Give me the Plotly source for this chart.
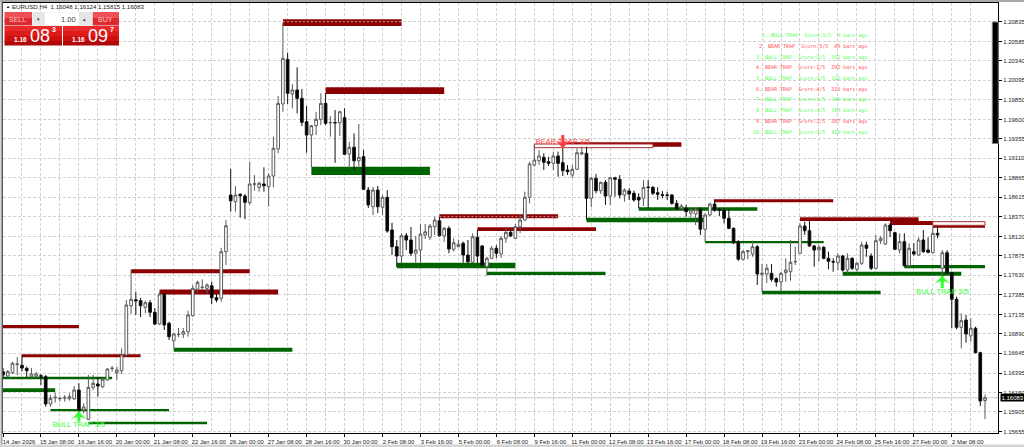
import plotly.graph_objects as go

WIDTH, HEIGHT = 1024, 447
LEFT, RIGHT, TOP, BOTTOM = 2.5, 26.3, 3, 14

# --- data ---------------------------------------------------------------
open_ = [
    1.16413, 1.16358, 1.16400, 1.16502, 1.16493, 1.16455, 1.16349, 1.16349, 1.16361, 1.16349,
    1.16004, 1.16084, 1.16071, 1.16080, 1.16071, 1.16071, 1.16181, 1.15929, 1.15811, 1.16215,
    1.16257, 1.16223, 1.16308, 1.16453, 1.16400, 1.16425, 1.16624, 1.17246, 1.17322, 1.17310,
    1.17226, 1.17284, 1.17163, 1.17015, 1.17394, 1.17024, 1.16804, 1.16881, 1.16885, 1.16918,
    1.17120, 1.17454, 1.17476, 1.17466, 1.17499, 1.17347, 1.17340, 1.17929, 1.18645, 1.18560,
    1.18654, 1.18632, 1.18548, 1.18781, 1.18742, 1.18784, 1.18750, 1.18885, 1.19226, 1.19795,
    1.20359, 1.19921, 1.19972, 1.19867, 1.19571, 1.19403, 1.19521, 1.19601, 1.19803, 1.19557,
    1.19561, 1.19558, 1.19622, 1.19163, 1.19248, 1.19078, 1.19129, 1.18708, 1.18497, 1.18708,
    1.18490, 1.18616, 1.18203, 1.17992, 1.17874, 1.18131, 1.18076, 1.17908, 1.17950, 1.18140,
    1.18111, 1.18244, 1.18320, 1.18127, 1.18224, 1.17959, 1.17992, 1.18035, 1.17887, 1.17795,
    1.18111, 1.18001, 1.17739, 1.17845, 1.17972, 1.17900, 1.18098, 1.18174, 1.18098, 1.18244,
    1.18329, 1.18616, 1.19024, 1.19078, 1.19121, 1.19066, 1.19045, 1.19138, 1.19053, 1.18961,
    1.18898, 1.18970, 1.19163, 1.19172, 1.18603, 1.18856, 1.18699, 1.18805, 1.18632, 1.18864,
    1.18843, 1.18645, 1.18696, 1.18667, 1.18616, 1.18603, 1.18745, 1.18742, 1.18674, 1.18648,
    1.18645, 1.18645, 1.18540, 1.18477, 1.18477, 1.18414, 1.18405, 1.18464, 1.18212, 1.18392,
    1.18531, 1.18457, 1.18455, 1.18351, 1.18224, 1.18055, 1.17833, 1.17929, 1.17900, 1.17992,
    1.17643, 1.17647, 1.17656, 1.17588, 1.17546, 1.17663, 1.17676, 1.17800, 1.17908, 1.18253,
    1.18194, 1.18001, 1.17950, 1.17984, 1.17845, 1.17803, 1.17790, 1.17874, 1.17697, 1.17845,
    1.17706, 1.17782, 1.18013, 1.17874, 1.17719, 1.18068, 1.18026, 1.18266, 1.18169, 1.17950,
    1.18055, 1.17752, 1.17929, 1.17887, 1.18076, 1.17950, 1.17916, 1.18161, 1.17719, 1.17916,
    1.17663, 1.17327, 1.16973, 1.17066, 1.16864, 1.16961, 1.16653, 1.16048,
]
high = [
    1.16459, 1.16434, 1.16539, 1.16598, 1.16624, 1.16476, 1.16459, 1.16413, 1.16383, 1.16371,
    1.16118, 1.16147, 1.16097, 1.16118, 1.16140, 1.16232, 1.16266, 1.16013, 1.16371, 1.16371,
    1.16342, 1.16346, 1.16455, 1.16485, 1.16476, 1.16708, 1.17318, 1.17697, 1.17423, 1.17344,
    1.17310, 1.17318, 1.17217, 1.17419, 1.17407, 1.17044, 1.16905, 1.16965, 1.16965, 1.17183,
    1.17508, 1.17562, 1.17580, 1.17529, 1.17550, 1.17394, 1.17979, 1.18329, 1.18973, 1.18759,
    1.18667, 1.18658, 1.19066, 1.18898, 1.18813, 1.18995, 1.18923, 1.19382, 1.19896, 1.20818,
    1.20443, 1.20047, 1.20258, 1.19984, 1.19769, 1.19529, 1.19697, 1.19930, 1.19934, 1.19643,
    1.19719, 1.19710, 1.19740, 1.19318, 1.19424, 1.19542, 1.19214, 1.18746, 1.18746, 1.18759,
    1.18645, 1.18708, 1.18295, 1.18076, 1.18161, 1.18165, 1.18241, 1.18127, 1.18279, 1.18279,
    1.18279, 1.18371, 1.18371, 1.18244, 1.18253, 1.18098, 1.18076, 1.18055, 1.18076, 1.18161,
    1.18203, 1.18013, 1.17865, 1.18001, 1.18013, 1.18127, 1.18244, 1.18203, 1.18279, 1.18392,
    1.18687, 1.19066, 1.19277, 1.19214, 1.19172, 1.19129, 1.19192, 1.19192, 1.19277, 1.19024,
    1.19024, 1.19235, 1.19255, 1.19255, 1.18876, 1.18910, 1.18813, 1.18834, 1.18876, 1.18876,
    1.18898, 1.18730, 1.18730, 1.18699, 1.18667, 1.18834, 1.18834, 1.18759, 1.18742, 1.18696,
    1.18687, 1.18658, 1.18582, 1.18531, 1.18519, 1.18477, 1.18490, 1.18490, 1.18414, 1.18548,
    1.18591, 1.18481, 1.18481, 1.18468, 1.18237, 1.18076, 1.17950, 1.17950, 1.18068, 1.18013,
    1.17773, 1.17773, 1.17773, 1.17605, 1.17676, 1.17845, 1.18076, 1.17992, 1.18287, 1.18308,
    1.18320, 1.18013, 1.18013, 1.18001, 1.17929, 1.17845, 1.17908, 1.17887, 1.17908, 1.17858,
    1.17802, 1.18055, 1.18055, 1.17908, 1.18140, 1.18127, 1.18287, 1.18291, 1.18181, 1.18161,
    1.18161, 1.18035, 1.18039, 1.18111, 1.18203, 1.18111, 1.18244, 1.18253, 1.17950, 1.17950,
    1.17676, 1.17360, 1.17150, 1.17129, 1.17087, 1.16981, 1.16665, 1.16124,
]
low = [
    1.16333, 1.16333, 1.16383, 1.16371, 1.16413, 1.16333, 1.16333, 1.16333, 1.16245, 1.15970,
    1.15970, 1.16021, 1.16034, 1.16034, 1.16046, 1.16055, 1.15887, 1.15887, 1.15802, 1.16181,
    1.16097, 1.16203, 1.16299, 1.16413, 1.16308, 1.16383, 1.16602, 1.17142, 1.17129, 1.17104,
    1.17154, 1.17104, 1.17002, 1.17002, 1.16939, 1.16813, 1.16712, 1.16851, 1.16838, 1.16855,
    1.17107, 1.17407, 1.17445, 1.17407, 1.17268, 1.17289, 1.17297, 1.17761, 1.18434, 1.18434,
    1.18358, 1.18342, 1.18519, 1.18699, 1.18687, 1.18687, 1.18497, 1.18742, 1.19172, 1.19697,
    1.19795, 1.19740, 1.19677, 1.19517, 1.19179, 1.18999, 1.19403, 1.19529, 1.19529, 1.19382,
    1.19053, 1.19390, 1.19150, 1.18986, 1.18961, 1.19003, 1.18708, 1.18481, 1.18392, 1.18418,
    1.18392, 1.18169, 1.17887, 1.17739, 1.17782, 1.17950, 1.17874, 1.17790, 1.17786, 1.18089,
    1.18076, 1.18140, 1.18118, 1.18055, 1.17908, 1.17929, 1.17984, 1.17790, 1.17782, 1.17782,
    1.17782, 1.17739, 1.17622, 1.17836, 1.17849, 1.17849, 1.18039, 1.18114, 1.18089, 1.18165,
    1.18320, 1.18540, 1.19003, 1.19024, 1.18961, 1.19011, 1.18961, 1.18876, 1.18885, 1.18898,
    1.18860, 1.18961, 1.19150, 1.18333, 1.18490, 1.18667, 1.18658, 1.18519, 1.18519, 1.18624,
    1.18603, 1.18560, 1.18582, 1.18560, 1.18477, 1.18506, 1.18477, 1.18645, 1.18582, 1.18603,
    1.18582, 1.18519, 1.18455, 1.18464, 1.18371, 1.18363, 1.18266, 1.18140, 1.18051, 1.18380,
    1.18434, 1.18380, 1.18287, 1.18212, 1.18026, 1.17815, 1.17815, 1.17833, 1.17865, 1.17508,
    1.17423, 1.17533, 1.17550, 1.17486, 1.17423, 1.17550, 1.17562, 1.17761, 1.17900, 1.18140,
    1.17992, 1.17739, 1.17802, 1.17833, 1.17706, 1.17676, 1.17697, 1.17676, 1.17656, 1.17697,
    1.17676, 1.17761, 1.17865, 1.17697, 1.17706, 1.18026, 1.18013, 1.18114, 1.17950, 1.17908,
    1.17739, 1.17719, 1.17878, 1.17874, 1.17916, 1.17908, 1.17908, 1.18098, 1.17571, 1.17647,
    1.16965, 1.16948, 1.16708, 1.16779, 1.16792, 1.16645, 1.15979, 1.15815,
]
close = [
    1.16371, 1.16413, 1.16519, 1.16510, 1.16459, 1.16425, 1.16383, 1.16383, 1.16356, 1.16004,
    1.16076, 1.16088, 1.16075, 1.16083, 1.16097, 1.16181, 1.15929, 1.15967, 1.16215, 1.16266,
    1.16232, 1.16317, 1.16447, 1.16457, 1.16434, 1.16624, 1.17255, 1.17327, 1.17306, 1.17246,
    1.17284, 1.17163, 1.17015, 1.17394, 1.17002, 1.16855, 1.16889, 1.16885, 1.16918, 1.17129,
    1.17466, 1.17542, 1.17480, 1.17508, 1.17347, 1.17318, 1.17929, 1.18257, 1.18573, 1.18645,
    1.18636, 1.18553, 1.18784, 1.18786, 1.18793, 1.18762, 1.18885, 1.19235, 1.19803, 1.20372,
    1.19930, 1.19972, 1.19867, 1.19563, 1.19403, 1.19521, 1.19601, 1.19803, 1.19551, 1.19561,
    1.19557, 1.19697, 1.19159, 1.19248, 1.19078, 1.19121, 1.18717, 1.18519, 1.18708, 1.18497,
    1.18616, 1.18190, 1.17992, 1.17874, 1.18131, 1.18076, 1.17908, 1.17950, 1.18152, 1.18181,
    1.18253, 1.18329, 1.18131, 1.18224, 1.17963, 1.18042, 1.18022, 1.17887, 1.17802, 1.18118,
    1.17874, 1.17761, 1.17845, 1.17972, 1.17908, 1.18098, 1.18174, 1.18127, 1.18244, 1.18329,
    1.18616, 1.19037, 1.19087, 1.19138, 1.19058, 1.19045, 1.19138, 1.19045, 1.18952, 1.18939,
    1.18970, 1.19179, 1.19179, 1.18603, 1.18856, 1.18699, 1.18805, 1.18632, 1.18864, 1.18843,
    1.18645, 1.18708, 1.18658, 1.18582, 1.18582, 1.18742, 1.18740, 1.18667, 1.18654, 1.18642,
    1.18641, 1.18540, 1.18468, 1.18506, 1.18434, 1.18455, 1.18464, 1.18212, 1.18392, 1.18531,
    1.18455, 1.18453, 1.18351, 1.18224, 1.18042, 1.17833, 1.17929, 1.17941, 1.17992, 1.17647,
    1.17656, 1.17719, 1.17580, 1.17546, 1.17656, 1.17697, 1.17795, 1.17805, 1.18253, 1.18194,
    1.18001, 1.17950, 1.17984, 1.17845, 1.17807, 1.17799, 1.17874, 1.17697, 1.17845, 1.17719,
    1.17782, 1.18013, 1.17972, 1.17719, 1.18068, 1.18098, 1.18266, 1.18194, 1.17959, 1.18055,
    1.17752, 1.17972, 1.17900, 1.18076, 1.17929, 1.17921, 1.18161, 1.18140, 1.17916, 1.17663,
    1.17327, 1.16973, 1.17057, 1.16889, 1.16961, 1.16653, 1.16042, 1.16083,
]

date_labels = [
    "14 Jan 2026", "15 Jan 08:00", "16 Jan 16:00", "20 Jan 00:00", "21 Jan 08:00", "22 Jan 16:00",
    "26 Jan 00:00", "27 Jan 08:00", "28 Jan 16:00", "30 Jan 00:00", "2 Feb 08:00", "3 Feb 16:00",
    "5 Feb 00:00", "6 Feb 08:00", "9 Feb 16:00", "11 Feb 00:00", "12 Feb 08:00", "13 Feb 16:00",
    "17 Feb 00:00", "18 Feb 08:00", "19 Feb 16:00", "23 Feb 00:00", "24 Feb 08:00", "25 Feb 16:00",
    "27 Feb 00:00", "2 Mar 08:00",
]
price_ticks = [
    1.20835, 1.20585, 1.20340, 1.20095, 1.19850, 1.19600, 1.19355, 1.19110, 1.18865, 1.18615, 1.18370,
    1.18120, 1.17875, 1.17630, 1.17385, 1.17135, 1.16890, 1.16645, 1.16395, 1.16150, 1.15905, 1.15655,
]

# zones: first bar, last bar, top price, bottom price
red_zones = [
    (59, 84, 1.20865, 1.20780), (68, 93, 1.20006, 1.19921), (27, 52, 1.17706, 1.17656),
    (33, 58, 1.17451, 1.17388), (-9, 16, 1.17003, 1.16961), (4, 29, 1.16632, 1.16594),
    (92, 117, 1.18401, 1.18351), (100, 125, 1.18237, 1.18190), (118, 143, 1.19311, 1.19255),
    (150, 175, 1.18591, 1.18553), (168, 193, 1.18363, 1.18316), (187, 196, 1.18316, 1.18266),
    (196, 207, 1.18262, 1.18232),
]
green_zones = [
    (-2, 23, 1.16349, 1.16317), (-14, 11, 1.16203, 1.16156), (10, 35, 1.15941, 1.15912),
    (18, 43, 1.15781, 1.15748), (36, 61, 1.16716, 1.16665), (65, 90, 1.19003, 1.18898),
    (83, 108, 1.17790, 1.17719), (102, 127, 1.17676, 1.17634), (123, 148, 1.18358, 1.18300),
    (134, 159, 1.18490, 1.18447), (148, 173, 1.18064, 1.18035), (160, 185, 1.17436, 1.17390),
    (177, 202, 1.17676, 1.17625), (190, 207, 1.17761, 1.17719),
]
# overlapping rectangles come out hollow
hollow_zones = [(112, 137, 1.19289, 1.19243), (196, 207, 1.18308, 1.18262)]
# grid line that shows through a zone: first bar, last bar, price
zone_grid = [(59, 84, 1.20835), (92, 117, 1.18370), (168, 193, 1.18370)]

bull_bars = [16, 198]
bull_tips = [1.15907, 1.17622]
bull_tails = [1.15781, 1.17470]
bull_text_y = [1.15739, 1.17423]
bear_bars = [118]
bear_tips = [1.19239]
bear_tails = [1.19403]
bear_text_y = [1.19318]

trap_types = ["BULL", "BEAR", "BULL", "BEAR", "BULL", "BEAR", "BULL", "BULL", "BEAR", "BULL"]
trap_scores = [3, 3, 3, 1, 3, 4, 1, 4, 2, 3]
trap_ages = [9, 89, 191, 292, 312, 323, 345, 353, 387, 419]

# --- helpers ------------------------------------------------------------
FONT = "Liberation Sans"
GRID = "#d0d0d0"
plot_w = WIDTH - LEFT - RIGHT
plot_h = HEIGHT - TOP - BOTTOM


def px(x):
    return (x - LEFT) / plot_w


def py(y):
    return 1 - (y - TOP) / plot_h


def box(x0, y0, x1, y1, fill, line=None):
    return dict(
        type="rect", xref="paper", yref="paper", layer="above",
        x0=px(x0), x1=px(x1), y0=py(y0), y1=py(y1), fillcolor=fill,
        line=dict(width=1 if line else 0, color=line or fill),
    )


def label(x, y, text, size, color="black", anchor="left", weight=None, family=FONT):
    return dict(
        xref="paper", yref="paper", x=px(x), y=py(y), text=text, showarrow=False,
        xanchor=anchor, yanchor="middle", borderpad=0,
        font=dict(family=family, size=size, color=color, weight=weight),
    )


bars = list(range(len(close)))
fig = go.Figure()

fig.add_trace(
    go.Candlestick(
        x=bars, open=open_, high=high, low=low, close=close,
        increasing=dict(line=dict(color="#5a5a5a", width=1), fillcolor="white"),
        decreasing=dict(line=dict(color="#111111", width=1), fillcolor="black"),
        hoverinfo="skip", showlegend=False,
    )
)

# trap arrows and their labels
for xs, tips, tails, text_y, color, symbol_angle, text in [
    (bull_bars, bull_tips, bull_tails, bull_text_y, "#33ff33", 0, "BULL TRAP 3/5"),
    (bear_bars, bear_tips, bear_tails, bear_text_y, "#ff4040", 180, "BEAR TRAP 3/5"),
]:
    fig.add_trace(
        go.Scatter(
            x=xs, y=text_y, mode="text", text=[text] * len(xs), textposition="middle center",
            textfont=dict(family=FONT, size=7.5, color=color), hoverinfo="skip", showlegend=False,
        )
    )
    for bar, tip, tail in zip(xs, tips, tails):
        fig.add_trace(
            go.Scatter(
                x=[bar, bar], y=[tip, tail], mode="lines", line=dict(color=color, width=3),
                hoverinfo="skip", showlegend=False,
            )
        )
    fig.add_trace(
        go.Scatter(
            x=xs, y=tips, mode="markers",
            marker=dict(symbol="arrow-wide", size=13, angle=symbol_angle, color=color, line=dict(width=0)),
            hoverinfo="skip", showlegend=False,
        )
    )

shapes = []
for zones, color in [(red_zones, "#8b0000"), (green_zones, "#006400")]:
    for start, end, top, bottom in zones:
        shapes.append(
            dict(type="rect", xref="x", yref="y", layer="between", x0=start, x1=end, y0=bottom, y1=top,
                 fillcolor=color, line=dict(width=0))
        )
for start, end, top, bottom in hollow_zones:
    shapes.append(
        dict(type="rect", xref="x", yref="y", layer="between", x0=start, x1=end, y0=bottom, y1=top,
             fillcolor="white", line=dict(width=1, color="#a83030"))
    )
for start, end, level in zone_grid:
    shapes.append(
        dict(type="line", xref="x", yref="y", layer="between", x0=start, x1=end, y0=level, y1=level,
             line=dict(width=1, color="#d8a0a0", dash="2px,2px"))
    )
# current price line
shapes.append(
    dict(type="line", xref="paper", yref="y", layer="between", x0=0, x1=1, y0=close[-1], y1=close[-1],
         line=dict(width=1, color="#c8c8c8"))
)

# window frame and the black bar by the price scale
shapes += [
    box(0, 0, 2, HEIGHT, "#a8a8a8"),
    box(0, 0, WIDTH, 2, "#a8a8a8"),
    box(0, 444.5, WIDTH, HEIGHT, "#d4d4d4"),
    box(992, 22, 998, 143.5, "black", "#808080"),
]

# one click trading panel
for x0, x1 in [(4, 31.5), (92, 118.5)]:
    shapes.append(box(x0, 12, x1, 18, "#ef5058"))
    shapes.append(box(x0, 18, x1, 25.5, "#dd2a30"))
shapes.append(box(32, 12, 92, 25.5, "#e6e6e6"))
shapes.append(box(44.5, 12.5, 78.5, 25, "white"))
for x0, x1 in [(4, 61.5), (62.5, 118.5)]:
    for y0, y1, fill in [(26, 31, "#ea2a2a"), (31, 36, "#dc1c1c"), (36, 41, "#cc1010"), (41, 45.5, "#b00808")]:
        shapes.append(box(x0, y0, x1, y1, fill))

annotations = [
    label(4.5, 7, "▲", 4),
    label(11, 7, "EURUSD,H4  1.16048 1.16124 1.15815 1.16083", 6.1, "#222222"),
    label(17.5, 19, "SELL", 7, "#ffc8c8", "center"),
    label(105, 19, "BUY", 7, "#ffc8c8", "center"),
    label(38, 19, "▾", 5, "#333333", "center"),
    label(84.5, 19, "▴", 5, "#333333", "center"),
    label(76.5, 19, "1.00", 7.5, "#444444", "right"),
    label(13, 39.5, "1.16", 6.5, "white", weight="bold"),
    label(29, 36, "08", 18, "white"),
    label(51, 30, "3", 7, "white", weight="bold"),
    label(71, 39.5, "1.16", 6.5, "white", weight="bold"),
    label(87, 36, "09", 18, "white"),
    label(109, 30, "7", 7, "white", weight="bold"),
]

# trap summary list, newest first
for i, (kind, score, age) in enumerate(zip(trap_types, trap_scores, trap_ages)):
    color = "#4dff4d" if kind == "BULL" else "#ff5050"
    text = f"{i + 1}. {kind} TRAP  Score:{score}/5  {age} bars ago"
    annotations.append(label(867.5, 35.7 + i * 10.7, text.replace(" ", "&nbsp;"), 5, color, "right", family="DejaVu Sans Mono"))

# last price tag
annotations.append(
    dict(xref="paper", yref="y", x=1.0025, y=close[-1], text=f"{close[-1]:.5f}", showarrow=False,
         xanchor="left", yanchor="middle", bgcolor="black", borderpad=0.5,
         font=dict(family=FONT, size=6, color="white"))
)

minor_vals = [b for b in range(4, 210, 8)]

fig.update_layout(
    width=WIDTH, height=HEIGHT, autosize=False, boxgap=0.2,
    margin=dict(l=LEFT, r=RIGHT, t=TOP, b=BOTTOM, pad=0, autoexpand=False),
    paper_bgcolor="white", plot_bgcolor="white", showlegend=False,
    shapes=shapes, annotations=annotations,
    xaxis=dict(
        range=[0, 209.74], rangeslider=dict(visible=False), tickmode="array",
        tickvals=list(range(0, 8 * len(date_labels), 8)), ticktext=date_labels,
        tickfont=dict(family=FONT, size=5.9, color="#222222"), ticklabelshift=16, ticklabelstandoff=0,
        ticks="outside", ticklen=3, tickcolor="black", tickangle=0,
        showgrid=True, gridcolor=GRID, griddash="3px,2px", gridwidth=1,
        minor=dict(tickmode="array", tickvals=minor_vals, showgrid=True, gridcolor=GRID,
                   griddash="3px,2px", gridwidth=1, ticks=""),
        showline=True, linecolor="black", linewidth=1, mirror=True, zeroline=False,
    ),
    yaxis=dict(
        range=[1.15638, 1.21071], side="right", tickmode="array", tickvals=price_ticks,
        ticktext=[f"{p:.5f}" for p in price_ticks], tickfont=dict(family=FONT, size=6, color="#222222"),
        ticks="outside", ticklen=3, tickcolor="black", showgrid=True, gridcolor=GRID,
        griddash="3px,2px", gridwidth=1, showline=True, linecolor="black", linewidth=1,
        mirror=True, zeroline=False,
    ),
)

# the page's own 8px body margin would push the figure off the window
fig.write_html(
    "out.html",
    config=dict(displayModeBar=False),
    post_script="document.body.style.margin='0';document.body.style.overflow='hidden';",
)
